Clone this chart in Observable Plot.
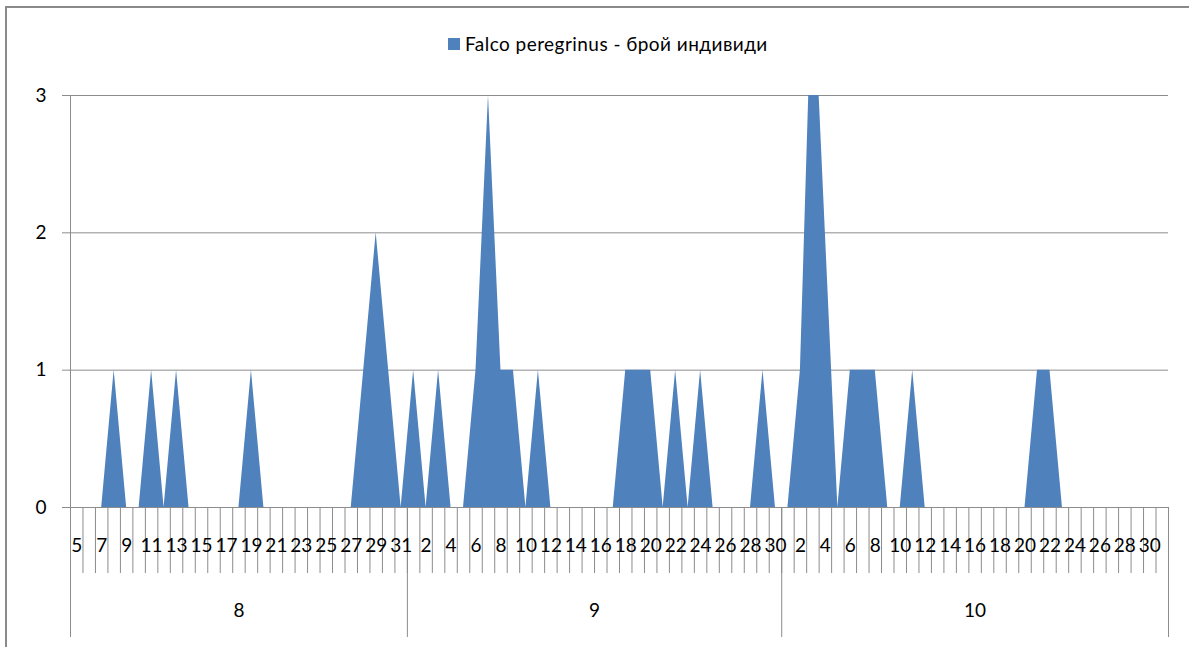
<!DOCTYPE html>
<html>
<head>
<meta charset="utf-8">
<script src="https://cdn.jsdelivr.net/npm/d3@7"></script>
<script src="https://cdn.jsdelivr.net/npm/@observablehq/plot@0.6"></script>
<style>
  html, body { margin: 0; padding: 0; background: #fff; overflow: hidden; }
  #wrap { position: relative; width: 1189px; height: 647px; overflow: hidden; }
  #frame { position: absolute; left: 5px; top: 6px; width: 1300px; height: 800px; border: 2px solid #8a8a8a; box-sizing: border-box; }
  #legend { position: absolute; left: 448px; top: 32px; display: flex; align-items: center; font-family: Lato, "Open Sans", sans-serif; font-size: 19px; letter-spacing: 0.45px; color: #000; white-space: nowrap; }
  #legend .sw { width: 12px; height: 12px; background: #4F81BD; margin-right: 5px; }
  #chart { position: absolute; left: 0; top: 0; }
</style>
</head>
<body>
<div id="wrap">
  <div id="frame"></div>
  <div id="chart"></div>
  <div id="legend"><span class="sw"></span><span id="legtext"></span></div>
</div>
<script>
// ---- Data ----
const seriesName = "Falco peregrinus - брой индивиди";
const monthLabels = ["8", "9", "10"];
const augDays = d3.range(5, 32);   // 5..31
const sepDays = d3.range(1, 31);   // 1..30
const octDays = d3.range(1, 32);   // 1..31
const augCounts = [0,0,0,1,0,0,1,0,1,0,0,0,0,0,1,0,0,0,0,0,0,0,0,1,2,1,0];
const sepCounts = [1,0,1,0,0,1,3,1,1,0,1,0,0,0,0,0,0,1,1,1,0,1,0,1,0,0,0,0,1,0];
const octCounts = [0,1,4,2,0,1,1,1,0,0,1,0,0,0,0,0,0,0,0,0,1,1,0,0,0,0,0,0,0,0,0];
const yTicks = [0, 1, 2, 3];

// ---- Table ----
const monthDays = [augDays, sepDays, octDays];
const monthCounts = [augCounts, sepCounts, octCounts];
const rows = [];
const months = [];
monthDays.forEach((days, m) => {
  const start = rows.length;
  days.forEach((day, k) => rows.push({ i: rows.length, month: monthLabels[m], day, count: monthCounts[m][k] }));
  months.push({ label: monthLabels[m], start, end: rows.length });
});
const n = rows.length;
const monthBounds = [0, ...months.map(d => d.end)];

document.getElementById("legtext").textContent = seriesName;

const gray = "#8c8c8c";
const chart = Plot.plot({
  width: 1189,
  height: 647,
  marginLeft: 70,
  marginRight: 21,
  marginTop: 95,
  marginBottom: 140,
  x: { type: "linear", domain: [0, n], axis: null, label: null },
  y: { domain: [0, 3], axis: null, label: null },
  style: { fontFamily: "Lato, 'Open Sans', sans-serif", fontSize: "19px", color: "#000", background: "transparent", overflow: "visible" },
  marks: [
    Plot.gridY(yTicks, { stroke: gray, strokeOpacity: 1 }),
    Plot.areaY(rows, { x: d => d.i + 0.5, y: "count", fill: "#4F81BD", clip: true }),
    Plot.ruleX([0], { stroke: gray }),
    Plot.axisY({ ticks: yTicks, tickSize: 8, tickPadding: 16, stroke: gray, strokeOpacity: 1, fill: "#000", label: null, tickFormat: d3.format("d") }),
    Plot.axisX({ ticks: d3.range(0, n + 1), tickSize: 66, tickFormat: () => "", label: null, stroke: gray, strokeOpacity: 1 }),
    Plot.axisX({ ticks: monthBounds, tickSize: 130, tickFormat: () => "", label: null, stroke: gray, strokeOpacity: 1 }),
    Plot.text(rows.filter((d, k) => k % 2 === 0), { x: d => d.i + 0.5, text: d => String(d.day), frameAnchor: "bottom", dy: 38, lineAnchor: "middle", fill: "#000" }),
    Plot.text(months, { x: d => (d.start + d.end) / 2, text: "label", frameAnchor: "bottom", dy: 103, lineAnchor: "middle", fill: "#000" })
  ]
});
document.getElementById("chart").appendChild(chart);
</script>
</body>
</html>
